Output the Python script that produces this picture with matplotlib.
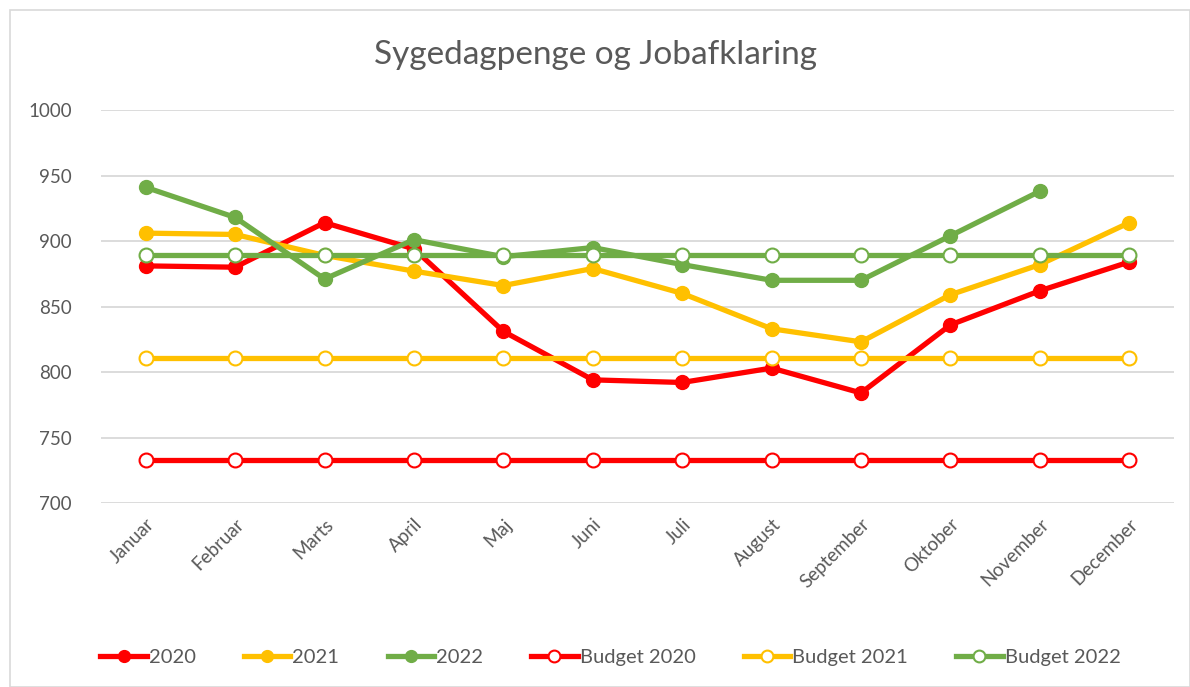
import numpy as np
import matplotlib.pyplot as plt
from matplotlib.patches import Rectangle

plt.rcParams['font.family'] = ['Lato', 'DejaVu Sans']

months = ['Januar', 'Februar', 'Marts', 'April', 'Maj', 'Juni', 'Juli',
          'August', 'September', 'Oktober', 'November', 'December']

v2020 = [881, 880, 914, 894, 831, 794, 792, 803, 784, 836, 862, 884]
v2021 = [906, 905, 889, 877, 866, 879, 860, 833, 823, 859, 882, 914]
v2022 = [941, 918, 871, 901, 888, 895, 882, 870, 870, 904, 938, np.nan]
budget2020 = [733] * 12
budget2021 = [811] * 12
budget2022 = [889] * 12

red = '#FF0000'
yellow = '#FFC000'
green = '#70AD47'
text_col = '#595959'

fig = plt.figure(figsize=(11.9, 6.87), dpi=100)
ax = fig.add_axes([101 / 1190, 1 - 503 / 687, (1174 - 101) / 1190, (503 - 110) / 687])

x = np.arange(len(months))
lw = 3.8
ms = 10

ax.plot(x, v2020, color=red, lw=lw, marker='o', ms=ms, label='2020')
ax.plot(x, v2021, color=yellow, lw=lw, marker='o', ms=ms, label='2021')
ax.plot(x, v2022, color=green, lw=lw, marker='o', ms=ms, label='2022')
ax.plot(x, budget2020, color=red, lw=lw, marker='o', ms=ms, mfc='white',
        mec=red, mew=1.5, label='Budget 2020')
ax.plot(x, budget2021, color=yellow, lw=lw, marker='o', ms=ms, mfc='white',
        mec=yellow, mew=1.5, label='Budget 2021')
ax.plot(x, budget2022, color=green, lw=lw, marker='o', ms=ms, mfc='white',
        mec=green, mew=1.5, label='Budget 2022')

ax.set_xlim(-0.5, len(months) - 0.5)
ax.set_ylim(700, 1000)
ax.set_yticks(range(700, 1001, 50))
ax.set_xticks(x)
ax.set_xticklabels(months, rotation=45, ha='right', rotation_mode='anchor')
ax.tick_params(axis='both', length=0, labelsize=13.5, colors=text_col)
ax.tick_params(axis='y', pad=21)
ax.tick_params(axis='x', pad=9)
ax.grid(axis='y', color='#D9D9D9', lw=1.3)
ax.set_axisbelow(True)
for s in ax.spines.values():
    s.set_visible(False)

fig.text(0.5, 1 - 55 / 687, 'Sygedagpenge og Jobafklaring', ha='center', va='center',
         fontsize=24, color=text_col)

fig.legend(loc='center', bbox_to_anchor=(0.513, 1 - 657 / 687), ncol=6, frameon=False,
           fontsize=14.5, handlelength=2.3, handletextpad=0.1, columnspacing=2.4,
           markerscale=0.85, labelcolor=text_col)

fig.patches.append(Rectangle((10 / 1190, 0), 1 - 10 / 1190, 1 - 10 / 687,
                             transform=fig.transFigure, fill=False,
                             edgecolor='#D9D9D9', lw=1.2))

fig.savefig('out.png', dpi=100)
